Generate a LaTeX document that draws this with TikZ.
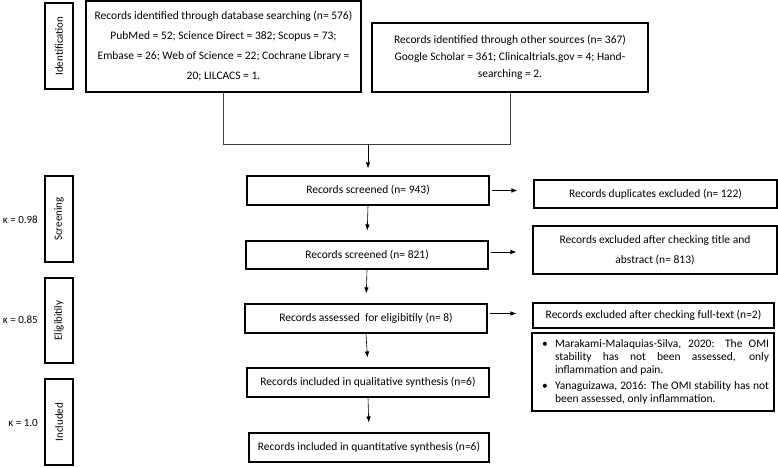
\documentclass[tikz,border=0pt]{standalone}
\usepackage{fontspec}
\setmainfont{Carlito}
\usetikzlibrary{arrows.meta,calc}

\begin{document}
\begin{tikzpicture}[x=1pt,y=-1pt,
		box/.style={draw, line width=1.1pt, minimum width=242pt, minimum height=29pt, inner sep=2pt, align=center, font=\fontsize{11.5}{20}\selectfont},
		phase/.style={draw, line width=1.1pt, minimum width=86pt, minimum height=28pt, inner sep=1pt, rotate=90, font=\fontsize{11}{12}\selectfont},
		kappa/.style={anchor=east, inner sep=0pt, font=\fontsize{11}{12}\selectfont},
		arr/.style={-{Latex[length=6pt,width=4.5pt]}, line width=0.6pt, shorten >=10pt},
		link/.style={line width=0.6pt, draw=black!75}]
		\useasboundingbox (0,0) rectangle (778,467);
%
		\node[phase] (Id) at (59,46) {Identification};
		\node[phase] (Sc) at (59,219) {Screening};
		\node[phase, minimum width=85pt] (El) at (59,320.5) {Eligibitily};
		\node[phase] (In) at (59,422) {Included};
		\node[kappa] (k1) at (38,220) {κ = 0.98};
		\node[kappa] (k2) at (38,320) {κ = 0.85};
		\node[kappa] (k3) at (38,423) {κ = 1.0};
%
		\node[box, minimum width=275pt, minimum height=91pt] (DB) at (223.5,46.5) {Records identified through database searching (n= 576)\\PubMed = 52; Science Direct = 382; Scopus = 73;\\Embase = 26; Web of Science = 22; Cochrane Library =\\20; LILCACS = 1.};
		\node[box, minimum width=276pt, minimum height=69pt, font=\fontsize{11.5}{17}\selectfont] (OS) at (510,57.5) {Records identified through other sources (n= 367)\\Google Scholar = 361; Clinicaltrials.gov = 4; Hand-\\searching = 2.};
		\node[box] (S1) at (368,190.5) {Records screened (n= 943)};
		\node[box, minimum height=28pt] (S2) at (367,255) {Records screened (n= 821)};
		\node[box] (E) at (366,318.5) {Records assessed\ \ for eligibitily (n= 8)};
		\node[box] (Q1) at (368,382.5) {Records included in qualitative synthesis (n=6)};
		\node[box, minimum width=240pt] (Q2) at (369,447.5) {Records included in quantitative synthesis (n=6)};
%
		\node[box, minimum width=243pt, minimum height=28pt] (X1) at (655.5,194) {Records duplicates excluded (n= 122)};
		\node[box, minimum width=244pt, minimum height=48pt] (X2) at (655,250) {Records excluded after checking title and\\abstract (n= 813)};
		\node[box, minimum width=241pt, minimum height=25pt] (X3) at (653.5,315.5) {Records excluded after checking full-text (n=2)};
		\node[box, minimum width=242pt, minimum height=78pt, align=left, font=\fontsize{11.5}{13}\selectfont] (L) at (653,372) {%
			\makebox[18pt][l]{\hspace{5pt}•}\makebox[214pt][s]{Marakami-Malaquias-Silva, 2020: The OMI}\\
			\hspace*{18pt}\makebox[214pt][s]{stability has not been assessed, only}\\
			\hspace*{18pt}inflammation and pain.\\[3pt]
			\makebox[18pt][l]{\hspace{5pt}•}\makebox[214pt][s]{Yanaguizawa, 2016: The OMI stability has not}\\
			\hspace*{18pt}been assessed, only inflammation.};
%
		\coordinate (M) at (368,144);
		\draw[link] (DB.south) |- (OS.south |- M) -- (OS.south);
		\draw[arr, shorten >=7pt] (M) -- (S1.north);
		\path[arr]
			(S1.south) edge (S2.north)
			(S2.south) edge (E.north)
			(E.south) edge (Q1.north)
			(Q1.south) edge (Q2.north);
		\path[arr, shorten <=2pt, shorten >=16pt]
			(S1.east) edge (S1.east -| X1.west)
			($(S2.east) + (0,-3)$) edge ($(S2.east -| X2.west) + (0,-3)$)
			($(E.east) + (0,-5)$) edge ($(E.east -| X3.west) + (0,-5)$);
	\end{tikzpicture}
\end{document}
